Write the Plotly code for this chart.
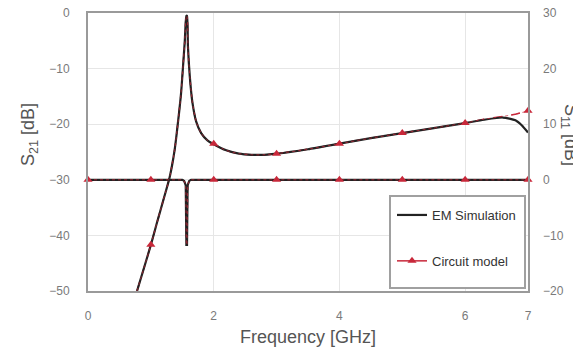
import plotly.graph_objects as go

# S21 (left axis) - EM simulation
em_s21_f = [0.78, 0.9, 1.0, 1.1, 1.2, 1.3, 1.38, 1.43, 1.48, 1.51, 1.54, 1.565, 1.575, 1.59, 1.62, 1.66, 1.72, 1.8, 1.9, 2.0, 2.2, 2.4, 2.6, 2.8, 3.0, 3.5, 4.0, 4.5, 5.0, 5.5, 6.0, 6.3, 6.6, 6.8, 6.9, 7.0]
em_s21_v = [-50, -45.5, -41.7, -37.6, -33.6, -29.5, -24.5, -19.8, -14.5, -9.9, -5, -0.5, -0.5, -6, -11.5, -16, -19.5, -21.6, -22.9, -23.6, -24.7, -25.3, -25.5, -25.5, -25.3, -24.5, -23.5, -22.5, -21.6, -20.7, -19.8, -19.2, -18.8, -19.3, -20.2, -21.5]

# S21 - circuit model (line)
cm_s21_f = [0.78, 0.9, 1.0, 1.1, 1.2, 1.3, 1.38, 1.43, 1.48, 1.51, 1.54, 1.565, 1.575, 1.59, 1.62, 1.66, 1.72, 1.8, 1.9, 2.0, 2.2, 2.4, 2.6, 2.8, 3.0, 3.5, 4.0, 4.5, 5.0, 5.5, 6.0, 6.3, 6.6, 6.8, 7.0]
cm_s21_v = [-50, -45.5, -41.7, -37.6, -33.6, -29.5, -24.5, -19.8, -14.5, -9.9, -5, -0.5, -0.5, -6, -11.5, -16, -19.5, -21.6, -22.9, -23.6, -24.7, -25.3, -25.5, -25.5, -25.3, -24.5, -23.5, -22.5, -21.6, -20.7, -19.8, -19.1, -18.6, -18.2, -17.6]
# S21 - circuit model markers
cm_s21_mf = [1, 2, 3, 4, 5, 6, 7]
cm_s21_mv = [-41.7, -23.5, -25.3, -23.5, -21.6, -19.8, -17.6]

# S11 (right axis) - EM simulation and circuit model
s11_f = [0, 1.0, 1.5, 1.53, 1.555, 1.565, 1.575, 1.585, 1.61, 1.64, 2.0, 3.0, 4.0, 5.0, 6.0, 7.0]
em_s11_v = [0, 0, 0, -0.2, -1.0, -11.7, -11.7, -1.0, -0.2, 0, 0, 0, 0, 0, 0, 0]
cm_s11_v = [0, 0, 0, -0.2, -1.0, -11.7, -11.7, -1.0, -0.2, 0, 0, 0, 0, 0, 0, 0]
cm_s11_mf = [0, 1, 2, 3, 4, 5, 6, 7]
cm_s11_mv = [0, 0, 0, 0, 0, 0, 0, 0]

x_ticks = [0, 2, 4, 6, 7]

BLACK = "#222222"
RED = "#c8283a"

# page offset (default body margin) and target plot area in screen pixels
OFF = 8
W, H = 581 - OFF, 351 - OFF
L, R, T, B = 88 - OFF, 528 - OFF, 13 - OFF, 291 - OFF


def px_x(p):
    return (p - OFF - L) / (R - L)


def px_y(p):
    return 1 - (p - OFF - T) / (B - T)


fig = go.Figure()

fig.add_trace(go.Scatter(x=cm_s21_f, y=cm_s21_v, mode="lines", line=dict(color=RED, width=1.5, dash="dash", shape="spline", smoothing=0.6), showlegend=False))
fig.add_trace(go.Scatter(x=s11_f, y=cm_s11_v, yaxis="y2", mode="lines", line=dict(color=RED, width=1.5, dash="dash"), showlegend=False))

fig.add_trace(go.Scatter(x=em_s21_f, y=em_s21_v, mode="lines", line=dict(color=BLACK, width=2.2, shape="spline", smoothing=0.6), name="EM Simulation", legendgroup="em", showlegend=True))
fig.add_trace(go.Scatter(x=s11_f, y=em_s11_v, yaxis="y2", mode="lines", line=dict(color=BLACK, width=2.2), showlegend=False))

fig.add_trace(go.Scatter(x=cm_s21_f, y=cm_s21_v, mode="lines", line=dict(color=RED, width=1, dash="dot", shape="spline", smoothing=0.6), showlegend=False, opacity=0.7))
fig.add_trace(go.Scatter(x=s11_f, y=cm_s11_v, yaxis="y2", mode="lines", line=dict(color=RED, width=1, dash="dot"), showlegend=False, opacity=0.7))

fig.add_trace(go.Scatter(x=cm_s21_mf, y=cm_s21_mv, mode="markers", marker=dict(symbol="triangle-up", size=8, color=RED), showlegend=False, cliponaxis=False))
fig.add_trace(go.Scatter(x=cm_s11_mf, y=cm_s11_mv, yaxis="y2", mode="markers", marker=dict(symbol="triangle-up", size=8, color=RED), showlegend=False, cliponaxis=False))

fig.add_trace(go.Scatter(x=[None], y=[None], mode="lines+markers", line=dict(color=RED, width=1.5), marker=dict(symbol="triangle-up", size=8, color=RED), name="Circuit model", legendgroup="cm", showlegend=True))

tick_font = dict(family="Liberation Sans", size=12, color="#7a7a7a")
title_font = dict(family="Liberation Sans", size=18, color="#555555")

fig.update_layout(
    width=W, height=H,
    margin=dict(l=L, r=W - R, t=T, b=H - B, autoexpand=False),
    paper_bgcolor="white", plot_bgcolor="white",
    xaxis=dict(range=[0, 7], tickvals=x_ticks, ticktext=[str(v) for v in x_ticks],
               showgrid=True, gridcolor="#e6e6e6", gridwidth=1,
               showline=True, linecolor="#9a9a9a", linewidth=2, mirror=True,
               zeroline=False, ticks="", tickfont=tick_font, ticklabelstandoff=13,
               ticklabeloverflow="allow", automargin=False),
    yaxis=dict(range=[-50, 0], dtick=10, showgrid=True, gridcolor="#e6e6e6", gridwidth=1,
               showline=True, linecolor="#9a9a9a", linewidth=2, mirror=True,
               zeroline=False, ticks="", tickfont=tick_font, ticklabelstandoff=14,
               ticklabeloverflow="allow", automargin=False),
    yaxis2=dict(range=[-20, 30], dtick=10, overlaying="y", side="right", showgrid=False,
                zeroline=False, ticks="", tickfont=tick_font, ticklabelstandoff=14,
                ticklabeloverflow="allow", showline=False, automargin=False),
    legend=dict(x=px_x(392), y=px_y(200), xanchor="left", yanchor="top",
                bgcolor="rgba(0,0,0,0)", borderwidth=0,
                font=dict(family="Liberation Sans", size=13, color="#333333"),
                tracegroupgap=26),
    showlegend=True,
    shapes=[dict(type="rect", xref="paper", yref="paper", layer="above",
                 x0=px_x(390), x1=px_x(525), y0=px_y(288), y1=px_y(196),
                 line=dict(color="#a0a0a0", width=2), fillcolor="white")],
    annotations=[
        dict(text="S<sub>21</sub> [dB]", textangle=-90, x=px_x(30), y=px_y(135), xref="paper", yref="paper",
             xanchor="center", yanchor="middle", showarrow=False, font=title_font),
        dict(text="S<sub>11</sub> [dB]", textangle=90, x=px_x(569), y=px_y(135), xref="paper", yref="paper",
             xanchor="center", yanchor="middle", showarrow=False, font=title_font),
        dict(text="Frequency [GHz]", x=0.5, y=px_y(337), xref="paper", yref="paper",
             xanchor="center", yanchor="middle", showarrow=False, font=title_font),
    ],
)

fig.write_html("out.html")
